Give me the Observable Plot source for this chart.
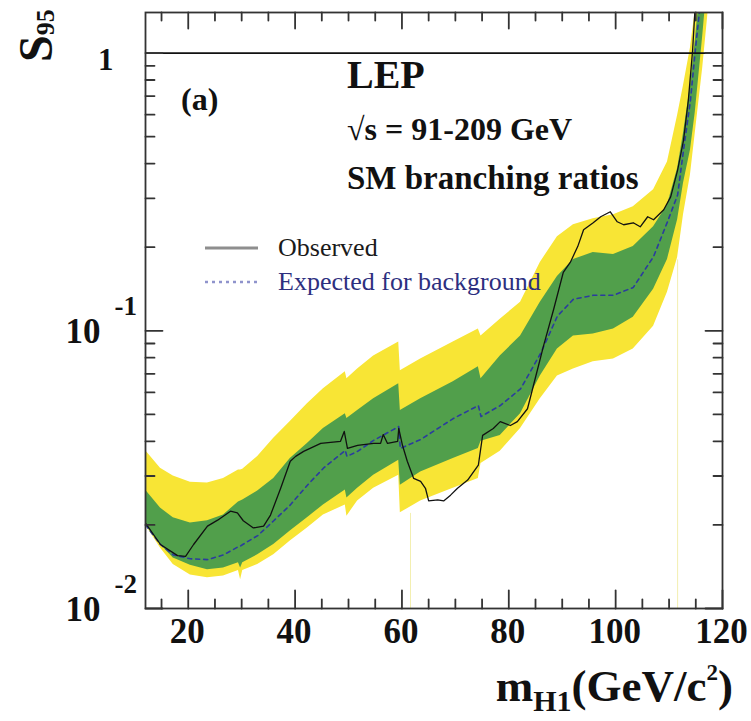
<!DOCTYPE html>
<html>
<head>
<meta charset="utf-8">
<script src="https://cdn.jsdelivr.net/npm/d3@7"></script>
<script src="https://cdn.jsdelivr.net/npm/@observablehq/plot@0.6"></script>
<style>
  html, body { margin: 0; padding: 0; background: #fff; }
  #chart svg { display: block; }
</style>
</head>
<body>
<div id="chart"></div>
<script>
// ---- data ----
const massBand = [12.0, 14.8, 17.2, 20.4, 23.6, 26.6, 29.4, 29.8, 30.2, 33.0,
  36.0, 39.1, 42.3, 45.3, 49.4, 49.7, 51.7, 54.7, 59.4, 59.7,
  63.5, 69.6, 74.3, 74.8, 78.4, 82.2, 85.9, 89.1, 92.1, 95.8,
  99.6, 103.3, 107.1, 109.7, 111.6, 112.7, 114.0, 114.9, 116.3, 117.2, 118.0];
const yellowUp = [0.0371, 0.0320, 0.0300, 0.0285, 0.0283, 0.0294, 0.0315, 0.0315, 0.0317, 0.0353,
  0.0410, 0.0471, 0.0546, 0.0618, 0.0712, 0.0672, 0.0729, 0.0812, 0.0911, 0.0718,
  0.0792, 0.0911, 0.1014, 0.0957, 0.1101, 0.1267, 0.1762, 0.2183, 0.2409, 0.2531,
  0.2617, 0.2795, 0.322, 0.405, 0.597, 0.764, 1.044, 1.417, 2.53, 3.51, 5.0];
const greenUp = [0.0267, 0.0230, 0.0212, 0.0203, 0.0207, 0.0217, 0.0242, 0.0244, 0.0246, 0.0265,
  0.0294, 0.0347, 0.0393, 0.0445, 0.0503, 0.0483, 0.0516, 0.0569, 0.0645, 0.0516,
  0.0569, 0.0655, 0.0742, 0.0672, 0.0812, 0.0957, 0.1267, 0.1570, 0.1806, 0.1913,
  0.1881, 0.2010, 0.2369, 0.284, 0.385, 0.514, 0.764, 1.107, 2.14, 2.98, 4.5];
const expected = [0.0200, 0.0170, 0.0156, 0.0151, 0.0150, 0.0156, 0.0167, 0.0168, 0.0170, 0.0183,
  0.0207, 0.0236, 0.0278, 0.0320, 0.0371, 0.0353, 0.0368, 0.0403, 0.0452, 0.0377,
  0.0406, 0.0483, 0.0538, 0.0491, 0.0538, 0.0618, 0.0825, 0.113, 0.1299, 0.1342,
  0.1342, 0.1433, 0.1851, 0.2469, 0.3085, 0.447, 0.675, 1.019, 1.815, 2.53, 4.0];
const greenDn = [0.0200, 0.0170, 0.0152, 0.0143, 0.0138, 0.0140, 0.0146, 0.0140, 0.0146, 0.0156,
  0.0170, 0.0190, 0.0212, 0.0236, 0.0267, 0.0250, 0.0271, 0.0302, 0.0342, 0.0278,
  0.0310, 0.0347, 0.0377, 0.0400, 0.0420, 0.0503, 0.0688, 0.0860, 0.0957, 0.0973,
  0.1014, 0.1119, 0.1410, 0.1806, 0.2510, 0.340, 0.447, 0.611, 1.153, 1.815, 3.0];
const yellowDn = [0.0200, 0.0165, 0.0144, 0.0132, 0.0129, 0.0131, 0.0137, 0.0127, 0.0137, 0.0144,
  0.0156, 0.0175, 0.0195, 0.0217, 0.0236, 0.0215, 0.0244, 0.0271, 0.0302, 0.0221,
  0.0244, 0.0271, 0.0294, 0.0333, 0.0368, 0.0445, 0.0569, 0.0688, 0.0729, 0.0773,
  0.0792, 0.0860, 0.1039, 0.1376, 0.1836, 0.2617, 0.364, 0.514, 0.886, 1.338, 2.0];

const obsMass = [12.0, 14.8, 18.0, 19.5, 21.0, 23.6, 25.5, 27.9, 29.2, 30.3,
  32.2, 34.1, 35.4, 37.3, 39.1, 40.1, 41.6, 44.8, 48.5, 49.2,
  49.8, 51.7, 54.7, 56.0, 56.5, 57.3, 59.2, 59.4, 60.1, 61.0,
  62.2, 63.5, 64.4, 65.0, 66.7, 67.8, 69.1, 70.4, 72.3, 74.3,
  75.1, 77.1, 78.4, 80.3, 81.6, 83.5, 84.6, 86.5, 88.4, 90.2,
  91.5, 92.9, 94.0, 95.8, 97.2, 99.0, 100.3, 101.5, 103.3, 104.6,
  106.0, 107.1, 109.0, 110.3, 111.6, 112.7, 113.6, 114.4, 114.8, 115.3];
const observed = [0.0203, 0.0170, 0.0155, 0.0154, 0.0170, 0.0198, 0.0208, 0.0224, 0.0221, 0.0207,
  0.0195, 0.0198, 0.0217, 0.0271, 0.0339, 0.0353, 0.0368, 0.0393, 0.0400, 0.0434,
  0.0377, 0.0387, 0.0393, 0.0393, 0.0423, 0.0393, 0.0400, 0.0445, 0.0387, 0.0339,
  0.0294, 0.0287, 0.0271, 0.0244, 0.0246, 0.0244, 0.0256, 0.0271, 0.0290, 0.0328,
  0.0420, 0.0445, 0.0471, 0.0456, 0.0471, 0.0524, 0.0634, 0.0882, 0.1196, 0.1622,
  0.1762, 0.2010, 0.2312, 0.2449, 0.2574, 0.2683, 0.2469, 0.2409, 0.2449, 0.2369,
  0.2574, 0.2510, 0.2727, 0.3034, 0.379, 0.485, 0.675, 1.019, 1.382, 2.14];

// thin light-yellow vertical slivers
const sliverMass = [61.6, 111.6];
const sliverTop = [0.022, 0.18];

// axis ticks and labels
const xMajor = [20, 40, 60, 80, 100, 120];
const xMinor = [15, 25, 30, 35, 45, 50, 55, 65, 70, 75, 85, 90, 95, 105, 110, 115];
const yMajor = [0.01, 0.1, 1];
const yMinor = [0.02, 0.03, 0.04, 0.05, 0.06, 0.07, 0.08, 0.09, 0.2, 0.3, 0.4, 0.5, 0.6, 0.7, 0.8, 0.9];
const yLabelBase = ["10", "10", "1"];
const yLabelExp = ["-2", "-1", ""];

// ---- tables built from arrays ----
const bands = massBand.map((m, i) => ({m, y2dn: yellowDn[i], y1dn: greenDn[i], exp: expected[i], y1up: greenUp[i], y2up: yellowUp[i]}));
const obs = obsMass.map((m, i) => ({m, v: observed[i]}));
const slivers = sliverMass.map((m, i) => ({m, top: sliverTop[i]}));
const yLabels = yMajor.map((v, i) => ({v, base: yLabelBase[i], exp: yLabelExp[i]}));

const YELLOW = "#f8e535";
const GREEN = "#519f4b";
const FONT = "Liberation Serif, Times New Roman, serif";
const AX = "#333";

const tickShape = {draw(ctx, l) { ctx.moveTo(0, 0); ctx.lineTo(0, -l); }};
const tick = (data, opts) => Plot.vector(data, {anchor: "start", shape: tickShape, stroke: AX, strokeWidth: 1.8, ...opts});

const chart = Plot.plot({
  width: 751,
  height: 721,
  marginLeft: 145,
  marginRight: 29,
  marginTop: 12,
  marginBottom: 113,
  style: {background: "#fff", fontFamily: FONT},
  x: {domain: [12, 120], axis: null},
  y: {type: "log", domain: [0.01, 1.4], axis: null},
  marks: [
    Plot.areaY(bands, {x: "m", y1: "y2dn", y2: "y2up", fill: YELLOW, clip: true}),
    Plot.areaY(bands, {x: "m", y1: "y1dn", y2: "y1up", fill: GREEN, clip: true}),
    Plot.ruleX(slivers, {x: "m", y1: 0.01, y2: "top", stroke: "#f3efb0", strokeWidth: 1, clip: true}),
    Plot.line(bands, {x: "m", y: "exp", stroke: "#2b3c9e", strokeWidth: 1.6, strokeDasharray: "4,4", clip: true}),
    Plot.line(obs, {x: "m", y: "v", stroke: "#111", strokeWidth: 1.3, clip: true}),
    Plot.ruleY([1], {stroke: "#111", strokeWidth: 1.6}),
    Plot.frame({stroke: AX, strokeWidth: 1.8}),
    // inward ticks
    tick(xMajor, {x: d => d, frameAnchor: "bottom", length: 18, rotate: 0}),
    tick(xMinor, {x: d => d, frameAnchor: "bottom", length: 9, rotate: 0}),
    tick(xMajor, {x: d => d, frameAnchor: "top", length: 16, rotate: 180}),
    tick(xMinor, {x: d => d, frameAnchor: "top", length: 8, rotate: 180}),
    tick(yMajor, {y: d => d, frameAnchor: "left", length: 17, rotate: 90}),
    tick(yMinor, {y: d => d, frameAnchor: "left", length: 9, rotate: 90}),
    tick(yMajor, {y: d => d, frameAnchor: "right", length: 17, rotate: -90}),
    tick(yMinor, {y: d => d, frameAnchor: "right", length: 9, rotate: -90}),
    // tick labels
    Plot.text(xMajor, {x: d => d, text: d => String(d), frameAnchor: "bottom", dy: 23, dx: -1,
      fontSize: 35, fontWeight: "bold", fontFamily: FONT, fill: "#111", lineAnchor: "middle"}),
    Plot.text(yLabels.filter(d => d.exp === ""), {y: "v", text: "base", frameAnchor: "left", dx: -32, dy: 7,
      textAnchor: "end", fontSize: 31, fontWeight: "bold", fontFamily: FONT, fill: "#111", lineAnchor: "middle"}),
    Plot.text(yLabels.filter(d => d.exp !== ""), {y: "v", text: "base", frameAnchor: "left", dx: -45, dy: 1,
      textAnchor: "end", fontSize: 35, fontWeight: "bold", fontFamily: FONT, fill: "#111", lineAnchor: "middle"}),
    Plot.text(yLabels.filter(d => d.exp !== ""), {y: "v", text: "exp", frameAnchor: "left", dx: -31, dy: -24,
      textAnchor: "start", fontSize: 27, fontWeight: "bold", fontFamily: FONT, fill: "#111", lineAnchor: "middle"})
  ]
});

document.getElementById("chart").appendChild(chart);

// ---- titles, annotations and legend ----
const svg = d3.select(chart);
const base = sel => sel.attr("font-family", FONT).attr("text-anchor", "start").attr("fill", "#111");
const bold = sel => sel.call(base).attr("font-weight", "bold");

// y title S95 (rotated)
const yt = svg.append("text").attr("transform", "translate(52,62) rotate(-90)").call(bold).attr("font-size", 48);
yt.append("tspan").text("S");
yt.append("tspan").attr("font-size", 26).attr("dy", 2).text("95");

// x title m_H1(GeV/c^2)
const xt = svg.append("text").attr("x", 733).attr("y", 701).call(bold).attr("text-anchor", "end").attr("font-size", 45);
xt.append("tspan").text("m");
xt.append("tspan").attr("font-size", 30).attr("dy", 10).text("H1");
xt.append("tspan").attr("dy", -10).text("(GeV/c");
xt.append("tspan").attr("font-size", 23).attr("dy", -21).text("2");
xt.append("tspan").attr("dy", 21).text(")");

// annotations
svg.append("text").attr("x", 347).attr("y", 88).call(bold).attr("font-size", 40).text("LEP");
svg.append("text").attr("x", 181).attr("y", 110).call(bold).attr("font-size", 32).text("(a)");
svg.append("text").attr("x", 347).attr("y", 140).call(bold).attr("font-size", 32).text("\u221As = 91-209 GeV");
svg.append("text").attr("x", 347).attr("y", 189).call(bold).attr("font-size", 33).text("SM branching ratios");

// legend
svg.append("line").attr("x1", 205).attr("x2", 258).attr("y1", 248).attr("y2", 248)
  .attr("stroke", "#8e8e8e").attr("stroke-width", 3);
svg.append("text").attr("x", 278).attr("y", 256).call(base).attr("font-size", 26)
  .attr("fill", "#1a1a1a").text("Observed");
svg.append("line").attr("x1", 205).attr("x2", 258).attr("y1", 282).attr("y2", 282)
  .attr("stroke", "#8f93cc").attr("stroke-width", 2.5).attr("stroke-dasharray", "3,4");
svg.append("text").attr("x", 278).attr("y", 290).call(base).attr("font-size", 26)
  .attr("fill", "#2d2f7f").text("Expected for background");
</script>
</body>
</html>
